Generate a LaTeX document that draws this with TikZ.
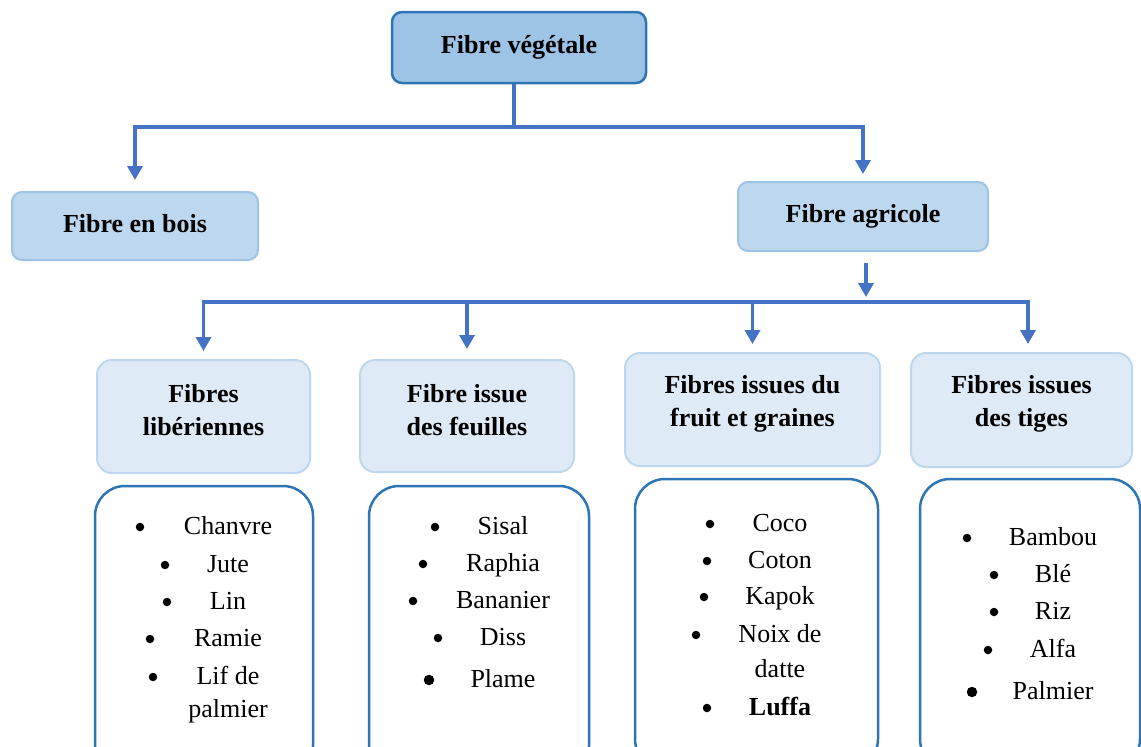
\documentclass[tikz,border=0pt]{standalone}
\usepackage{fontspec}
\setmainfont{Liberation Serif}
\usepackage{tikz}
\usetikzlibrary{arrows.meta}

\definecolor{bleu}{HTML}{4472C4}
\definecolor{bleufonce}{HTML}{2E75B6}
\definecolor{bleumoyen}{HTML}{9DC3E6}
\definecolor{bleuclair}{HTML}{BDD7EE}
\definecolor{bleupale}{HTML}{DEEBF7}

\begin{document}
\begin{tikzpicture}[x=1pt,y=-1pt,line join=miter,
                    trait/.style={draw=bleu,line width=3.5pt},
                    fleche/.style={-{Triangle[width=15pt,length=14pt]},draw=bleu,line width=3.5pt,shorten >=8pt}]
\tikzstyle{racine}=[draw=bleufonce,fill=bleumoyen,line width=2.5pt,rounded corners=10pt,font=\fontsize{26}{33}\selectfont\bfseries,text height=18pt,text depth=6pt]
\tikzstyle{classe}=[draw=bleumoyen,fill=bleuclair,line width=2pt,rounded corners=10pt,font=\fontsize{26}{33}\selectfont\bfseries,text height=18pt,text depth=6pt]
\tikzstyle{famille}=[draw=bleuclair,fill=bleupale,line width=2pt,rounded corners=15pt]
\tikzstyle{titre}=[align=center,inner sep=0pt,font=\fontsize{26}{33}\selectfont\bfseries]
\tikzstyle{liste}=[draw=bleufonce,fill=white,line width=2.5pt,rounded corners=30pt,minimum height=290pt]
\tikzstyle{puce}=[circle,fill=black,inner sep=0pt]
\tikzstyle{elem}=[anchor=base,inner sep=0pt,font=\fontsize{26}{33}\selectfont]

\useasboundingbox (0,0) rectangle (1141,747);
\clip (0,0) rectangle (1141,747);

        \node[racine,minimum width=254pt,minimum height=71pt]     (vege)   at (519,47.5)     {Fibre végétale};
        \node[classe,minimum width=246pt,minimum height=68pt]     (bois)   at (135,226)      {Fibre en bois};
        \node[classe,minimum width=250pt,minimum height=69pt]     (agri)   at (863,216.5)    {Fibre agricole};

        \node[famille,minimum width=213pt,minimum height=113pt]   (libe)   at (203.5,416.5)  {};
        \node[titre]                                              (libe-t) at (203.5,410)    {Fibres\\libériennes};
        \node[famille,minimum width=214pt,minimum height=112pt]   (feui)   at (467,416)      {};
        \node[titre]                                              (feui-t) at (467,410)      {Fibre issue\\des feuilles};
        \node[famille,minimum width=255pt,minimum height=113pt]   (frui)   at (752.5,409.5)  {};
        \node[titre]                                              (frui-t) at (752.5,404)    {Fibres issues du\\fruit et graines};
        \node[famille,minimum width=221pt,minimum height=114pt]   (tige)   at (1021.5,410)   {};
        \node[titre]                                              (tige-t) at (1021.5,404)   {Fibres issues\\des tiges};

        \node[liste,minimum width=218pt]                          (la)     at (204,631)      {};
        \node[liste,minimum width=220pt]                          (lb)     at (479,631)      {};
        \node[liste,minimum width=243pt]                          (lc)     at (756.5,624)    {};
        \node[liste,minimum width=220pt]                          (ld)     at (1030,624)     {};

        % listes
        \foreach \bx/\by/\t/\r [count=\i] in {140/534/Chanvre/8.5, 165/572/Jute/8.5, 167/609/Lin/8.5, 150/646/Ramie/8.5, 153/684/Lif de/8.5} {
            \node[puce,minimum size=\r pt] (pa\i) at (\bx,\by-7) {};
            \node[elem]                    (ta\i) at (228,\by)   {\t};
        }
        \node[elem] (ta6) at (228,717) {palmier};

        \foreach \bx/\by/\t/\r [count=\i] in {435/534/Sisal/8.5, 423/571/Raphia/8.5, 413/608/Bananier/8.5, 438/645/Diss/8.5, 429/687/Plame/10.5} {
            \node[puce,minimum size=\r pt] (pb\i) at (\bx,\by-7) {};
            \node[elem]                    (tb\i) at (503,\by)   {\t};
        }

        \foreach \bx/\by/\t/\r [count=\i] in {710/531/Coco/8.5, 707/568/Coton/8.5, 704/604/Kapok/8.5, 696/642/Noix de/8.5, 707/715/{\textbf{Luffa}}/8.5} {
            \node[puce,minimum size=\r pt] (pc\i) at (\bx,\by-7) {};
            \node[elem]                    (tc\i) at (780,\by)   {\t};
        }
        \node[elem] (tc6) at (780,677) {datte};

        \foreach \bx/\by/\t/\r [count=\i] in {967/545/Bambou/8.5, 994/582/Blé/8.5, 994/619/Riz/8.5, 988/657/Alfa/8.5, 972/699/Palmier/10.5} {
            \node[puce,minimum size=\r pt] (pd\i) at (\bx,\by-7) {};
            \node[elem]                    (td\i) at (1053,\by)  {\t};
        }

        % liaisons
        \coordinate (j1) at (514,127);
        \coordinate (j2) at (866,302);
        \coordinate (j3) at (1028,302);
        \draw[trait] (vege.south -| j1) -- (j1);
        \draw[fleche,shorten >=11pt] (j1) -| (bois.north);
        \draw[fleche,shorten >=7pt]  (j1) -| (agri.north);
        \draw[fleche,shorten <=11pt,shorten >=5pt] (agri.south -| j2) -- (j2);
        \draw[fleche] (j2) -| (libe.north);
        \draw[fleche] (j2) -- (j3) -- (j3 |- tige.north);
        \draw[fleche,shorten >=10pt] (j2 -| feui.north) -- (feui.north);
        \draw[fleche] (j2 -| frui.north) -- (frui.north);

\end{tikzpicture}
\end{document}
